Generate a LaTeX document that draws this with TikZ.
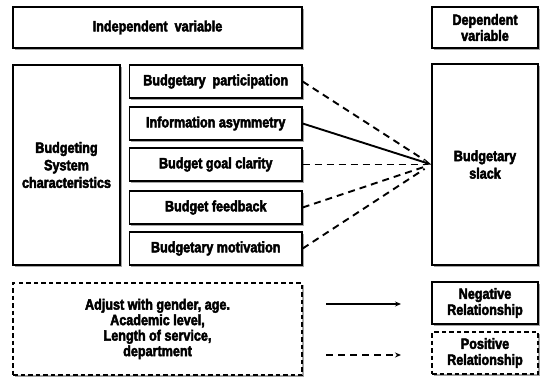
\documentclass[tikz,border=0pt]{standalone}
\usepackage{fontspec}
\setmainfont{Liberation Sans}[BoldFeatures={FakeBold=3,FakeStretch=0.84}]
\usetikzlibrary{shadows,arrows.meta,calc}
\begin{document}
\begin{tikzpicture}[x=1pt,y=-1pt,
  box/.style={draw=black, line width=1.3pt, fill=white, inner sep=1pt, align=center,
    font=\bfseries\fontsize{15}{16}\selectfont,
    drop shadow={shadow xshift=1.8pt, shadow yshift=-1.8pt, fill=black!50, opacity=0.7}},
  dashbox/.style={box, dash pattern=on 4.5pt off 3pt},
  solidarrow/.style={line width=1.9pt, -{Stealth[length=8pt,width=6.5pt]}},
  dasharrow/.style={line width=1.9pt, dash pattern=on 7pt off 5pt, shorten >=8pt},
  legsolid/.style={line width=1.7pt, -{Stealth[length=6pt,width=5pt]}},
  legdash/.style={line width=1.7pt, dash pattern=on 7pt off 5pt, -{Stealth[length=6pt,width=5pt]}}
]
\useasboundingbox (0,0) rectangle (540,377);
\node[box, minimum width=289pt, minimum height=41pt] (indep) at (157.5,27.5) {Independent\ \ variable};
\node[box, minimum width=106pt, minimum height=41pt] (dep) at (485,27.5) {Dependent\\variable};
\node[box, minimum width=107pt, minimum height=200pt, font=\bfseries\fontsize{15}{17.5}\selectfont] (bsc) at (66.5,165) {Budgeting\\System\\characteristics};
\node[box, minimum width=172.5pt, minimum height=33pt] (bp) at (215.75,81.5) {Budgetary\ \ participation};
\node[box, minimum width=172.5pt, minimum height=33pt] (ia) at (215.75,123.5) {Information asymmetry};
\node[box, minimum width=172.5pt, minimum height=33pt] (bgc) at (215.75,164.5) {Budget goal clarity};
\node[box, minimum width=172.5pt, minimum height=33pt] (bf) at (215.75,207.5) {Budget feedback};
\node[box, minimum width=172.5pt, minimum height=33pt] (bm) at (215.75,248.5) {Budgetary motivation};
\node[box, minimum width=106pt, minimum height=201pt, font=\bfseries\fontsize{15}{17.5}\selectfont] (slack) at (485,164.5) {Budgetary\\slack};
\node[dashbox, minimum width=289pt, minimum height=92pt, font=\bfseries\fontsize{15}{15.5}\selectfont] (adj) at (157.5,329)
  {Adjust with gender, age.\\Academic level,\\Length of service,\\department};
\node[box, minimum width=106pt, minimum height=42pt] (neg) at (485,303) {Negative\\Relationship};
\node[dashbox, minimum width=106pt, minimum height=42pt] (pos) at (485,353) {Positive\\Relationship};

\draw[dasharrow] (bp.east) -- (slack.west);
\draw[dasharrow] (bgc.east) -- (slack.west);
\draw[dasharrow] (bf.east) -- (slack.west);
\draw[dasharrow] (bm.east) -- (slack.west);
\draw[solidarrow] (ia.east) -- (slack.west);

\coordinate (ls1) at (326,304);
\coordinate (le1) at (401,304);
\coordinate (ls2) at (326,355);
\coordinate (le2) at (401,355);
\draw[legsolid] (ls1) -- (le1);
\draw[legdash] (ls2) -- (le2);
\end{tikzpicture}
\end{document}
